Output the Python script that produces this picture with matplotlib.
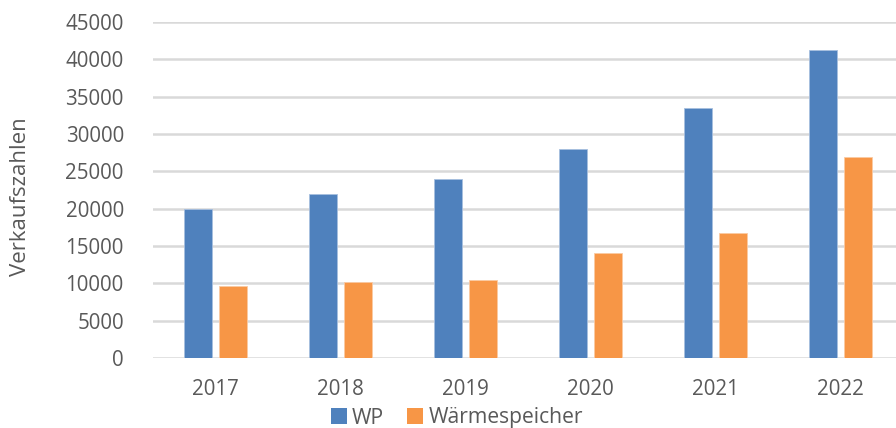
import matplotlib
matplotlib.use("Agg")
import matplotlib.pyplot as plt
from matplotlib.patches import Patch
import numpy as np

years = ["2017", "2018", "2019", "2020", "2021", "2022"]
wp = [20000, 22000, 24000, 28000, 33500, 41200]
speicher = [9600, 10200, 10400, 14000, 16800, 26900]
yticks = [0, 5000, 10000, 15000, 20000, 25000, 30000, 35000, 40000, 45000]

blue = "#4f81bd"
orange = "#f79646"
text_col = "#595959"
grid_col = "#d9d9d9"

plt.rcParams["font.family"] = ["Open Sans", "DejaVu Sans"]

W, H = 896, 428
fig = plt.figure(figsize=(W / 100, H / 100), dpi=100)
# axes runs past the right edge of the picture, like the reference
ax = fig.add_axes([153 / W, 70 / H, 750 / W, 336 / H])

x = np.arange(len(years))
bw = 0.224
ax.bar(x - 0.14, wp, bw, color=blue, edgecolor="#a7bfdf", linewidth=0.6, zorder=3)
ax.bar(x + 0.14, speicher, bw, color=orange, edgecolor="#fbcaa3", linewidth=0.6, zorder=3)

ax.set_xlim(-0.5, len(years) - 0.5)
ax.set_ylim(0, 45000)
ax.set_yticks(yticks)
ax.set_yticklabels([str(v) for v in yticks])
ax.set_xticks(x)
ax.set_xticklabels(years)
ax.yaxis.grid(True, color=grid_col, linewidth=1.8, zorder=0)
ax.set_axisbelow(True)
for s in ax.spines.values():
    s.set_visible(False)
ax.tick_params(axis="both", length=0, labelsize=14.8, labelcolor=text_col)
ax.tick_params(axis="y", pad=21)
ax.tick_params(axis="x", pad=15)

fig.text(21 / W, 1 - 197 / H, "Verkaufszahlen", rotation=90, ha="center", va="center",
         fontsize=16, color=text_col)

handles = [Patch(facecolor=blue, label="WP"), Patch(facecolor=orange, label="Wärmespeicher")]
fig.legend(handles=handles, loc="center", bbox_to_anchor=(457 / W, 1 - 418 / H), ncol=2,
           frameon=False, fontsize=15.2, labelcolor=text_col, handlelength=0.75,
           handleheight=0.75, handletextpad=0.25, columnspacing=1.1, borderpad=0)

fig.savefig("out.png", dpi=100)
